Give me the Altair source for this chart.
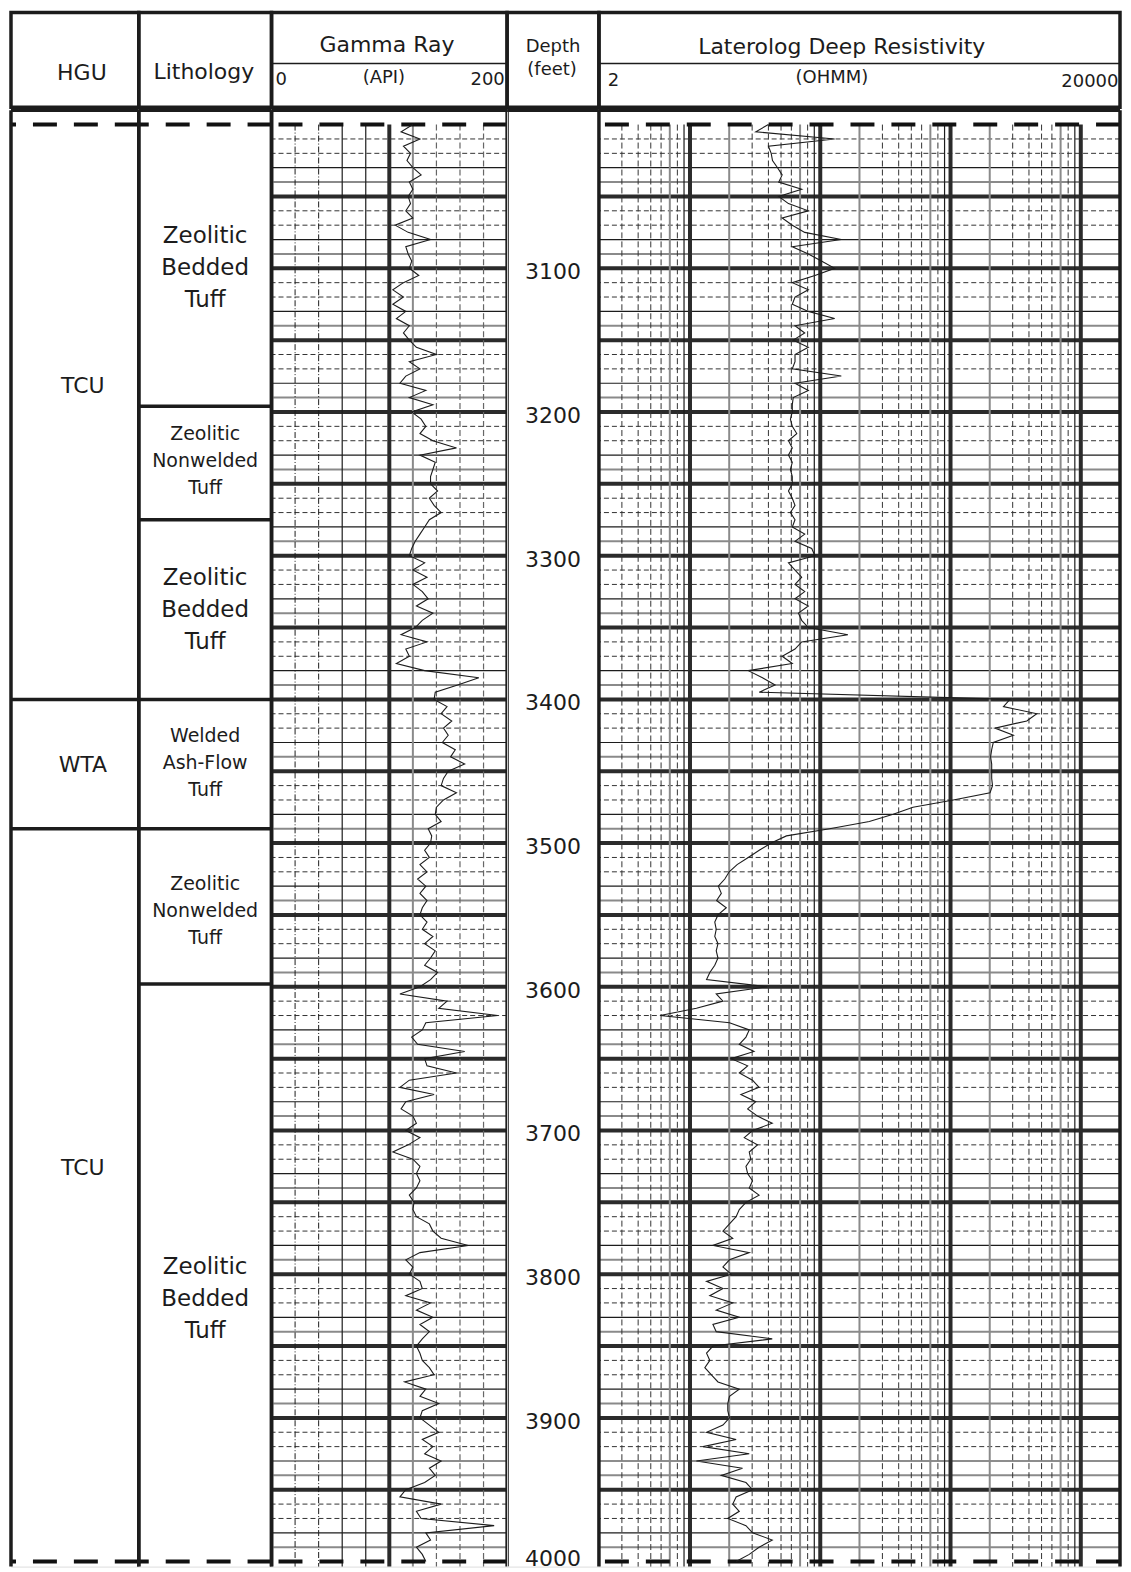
import altair as alt
import pandas as pd

# ------------------------------------------------------------------ data
depth_ft = list(range(3000, 4001, 5))

gamma_api = [
    120, 110, 126, 112, 118, 115, 120, 127, 117, 120,
    116, 118, 114, 120, 105, 116, 135, 114, 116, 119,
    117, 125, 112, 103, 112, 103, 114, 106, 117, 112,
    117, 123, 140, 117, 126, 114, 109, 131, 117, 137,
    119, 127, 131, 126, 137, 157, 126, 139, 137, 135,
    135, 141, 134, 138, 144, 134, 130, 126, 122, 119,
    117, 130, 120, 132, 120, 128, 133, 123, 137, 128,
    122, 110, 132, 114, 117, 106, 130, 176, 158, 139,
    138, 149, 144, 153, 146, 150, 145, 156, 152, 164,
    150, 146, 144, 157, 146, 140, 139, 144, 133, 136,
    135, 130, 134, 126, 132, 124, 131, 126, 132, 128,
    126, 132, 128, 137, 130, 139, 135, 130, 141, 135,
    126, 109, 149, 142, 192, 131, 128, 119, 124, 164,
    130, 132, 157, 117, 109, 138, 114, 110, 120, 123,
    114, 126, 116, 103, 120, 126, 123, 126, 123, 117,
    121, 120, 123, 134, 137, 144, 167, 126, 114, 120,
    117, 126, 128, 114, 135, 123, 137, 126, 134, 128,
    123, 126, 128, 134, 138, 113, 131, 126, 142, 128,
    126, 134, 142, 128, 137, 130, 144, 134, 139, 130,
    114, 109, 144, 123, 127, 189, 131, 135, 123, 128,
    131,
]

resist_ohmm = [
    40, 32, 129, 40, 42, 43, 47, 51, 48, 72,
    48, 57, 81, 51, 61, 76, 145, 61, 81, 102,
    129, 91, 61, 81, 64, 61, 81, 129, 64, 76,
    62, 81, 64, 64, 61, 145, 64, 81, 62, 61,
    61, 59, 61, 66, 57, 61, 57, 61, 59, 61,
    61, 57, 61, 64, 59, 64, 61, 76, 64, 86,
    91, 57, 64, 72, 64, 76, 64, 81, 68, 72,
    81, 163, 72, 64, 51, 61, 28, 36, 45, 34,
    2860, 2550, 4590, 3850, 2190, 3040, 2130, 2070, 2030, 2070,
    2070, 2070, 2100, 2010, 1050, 515, 363, 238, 118, 55,
    42, 34, 28, 23, 20, 18.5, 16.5, 17.4, 16, 19,
    16.4, 15.5, 15.9, 15.5, 16.4, 15.9, 16.4, 15.5, 14.2, 13.4,
    39, 15.9, 17.9, 11.2, 5.9, 20.1, 28.5, 26.9, 23.9, 31,
    20.7, 27.7, 23.9, 30.2, 33.9, 24.6, 32, 27.7, 33, 42.8,
    30.2, 26.1, 33, 28.5, 29.3, 26.9, 27.7, 30.2, 28.5, 33.9,
    26.9, 23.9, 22.6, 20.1, 17.9, 21.3, 15, 28.5, 20.1, 17.9,
    20.7, 13.4, 17.9, 14.2, 21.3, 15.9, 23.9, 15, 15.9, 42.8,
    15, 13.4, 14.2, 13, 14.6, 16.4, 23.9, 20.1, 19.5, 19.5,
    20.1, 17.9, 13.4, 22.6, 12.6, 28.5, 11.2, 25.3, 17.4, 26.9,
    30.2, 22.6, 21.3, 23.9, 19.5, 26.9, 30.2, 42.8, 33.9, 28.5,
    22.6,
]

hgu_names = ["TCU", "WTA", "TCU"]
hgu_label_depth = [3182, 3446, 3726]
hgu_contacts = [3400, 3490]

lith_names = [
    "Zeolitic\nBedded\nTuff",
    "Zeolitic\nNonwelded\nTuff",
    "Zeolitic\nBedded\nTuff",
    "Welded\nAsh-Flow\nTuff",
    "Zeolitic\nNonwelded\nTuff",
    "Zeolitic\nBedded\nTuff",
]
lith_label_depth = [3100, 3234, 3338, 3444, 3547, 3817]
lith_contacts = [3196, 3275, 3400, 3490, 3598]

depth_labels = list(range(3100, 4001, 100))
log_top, log_base = 3000, 4000
gr_range = [0, 200]
res_range = [2, 20000]

# ------------------------------------------------------------------ style / layout
FONT = "DejaVu Sans"
INK = "#1c1c1c"
GRID = "#333333"
GRAY = "#8a8a8a"
THICK = "#2b2b2b"
Y_DOM = [2990, 4003.5]
BODY_H = 1459
HEAD_H = 95
W_HGU, W_LITH, W_GR, W_DEP, W_RES = 128, 133, 236, 92, 522
BIG_LH, SMALL_LH = 32, 27

unit_x = alt.Scale(domain=[0, 1], nice=False, zero=False)
gr_x = alt.Scale(domain=gr_range, nice=False, zero=False)
res_x = alt.Scale(type="log", domain=res_range, nice=False)
head_y = alt.Scale(domain=[0, 1], reverse=True, nice=False, zero=False)


def Yq(field):
    return alt.Y(f"{field}:Q", scale=alt.Scale(domain=Y_DOM, reverse=True, nice=False, zero=False), axis=None)


def hrules(depths, **mk):
    return alt.Chart(pd.DataFrame({"d": depths})).mark_rule(**mk).encode(y=Yq("d"))


def vrules(vals, xs, top, bottom, **mk):
    df = pd.DataFrame({"v": vals, "d0": [top] * len(vals), "d1": [bottom] * len(vals)})
    return alt.Chart(df).mark_rule(**mk).encode(
        x=alt.X("v:Q", scale=xs, axis=None), y=Yq("d0"), y2="d1:Q"
    )


def borders(lo, hi, xs):
    return [
        vrules([lo, hi], xs, Y_DOM[0], Y_DOM[1], color=INK, strokeWidth=3.5),
        hrules([Y_DOM[0]], color=INK, strokeWidth=3.5),
    ]


def dashes():
    return hrules([log_top, log_base], color="#111111", strokeWidth=4, strokeDash=[24, 17])


minor = [d for d in range(log_top + 10, log_base, 10) if d % 50]
major = list(range(log_top + 50, log_base, 50))


def hgrid():
    return [
        hrules([d for d in minor if d % 50 in (10, 20)], color=GRID, strokeWidth=1, strokeDash=[5, 3]),
        hrules([d for d in minor if d % 50 == 30], color=INK, strokeWidth=1.2),
        hrules([d for d in minor if d % 50 == 40], color=GRAY, strokeWidth=2),
        hrules(major, color=THICK, strokeWidth=4),
    ]


curve_df = pd.DataFrame({"d": depth_ft, "gr": gamma_api, "res": resist_ohmm})
V0, V1 = log_top, Y_DOM[1]

# ------------------------------------------------------------------ body panels
hgu_df = pd.DataFrame({"name": hgu_names, "d": hgu_label_depth})
hgu_df["x"] = 0.5
b_hgu = alt.layer(
    hrules(hgu_contacts, color=INK, strokeWidth=3.5),
    dashes(),
    *borders(0, 1, unit_x),
    alt.Chart(hgu_df).mark_text(font=FONT, fontSize=22, color=INK, dx=8, baseline="middle").encode(
        x=alt.X("x:Q", scale=unit_x, axis=None), y=Yq("d"), text="name:N"
    ),
).properties(width=W_HGU, height=BODY_H)

lith_df = pd.DataFrame({"name": lith_names, "d": lith_label_depth})
lith_df["x"] = 0.5
big = lith_df[lith_df["name"].str.contains("Bedded")]
small = lith_df[~lith_df["name"].str.contains("Bedded")]
b_lith = alt.layer(
    hrules(lith_contacts, color=INK, strokeWidth=3.5),
    dashes(),
    *borders(0, 1, unit_x),
    alt.Chart(big).mark_text(font=FONT, fontSize=23, lineHeight=BIG_LH, lineBreak="\n", color=INK,
                             baseline="middle", dy=-BIG_LH).encode(
        x=alt.X("x:Q", scale=unit_x, axis=None), y=Yq("d"), text="name:N"
    ),
    alt.Chart(small).mark_text(font=FONT, fontSize=19, lineHeight=SMALL_LH, lineBreak="\n", color=INK,
                               baseline="middle", dy=-SMALL_LH).encode(
        x=alt.X("x:Q", scale=unit_x, axis=None), y=Yq("d"), text="name:N"
    ),
).properties(width=W_LITH, height=BODY_H)

b_gr = alt.layer(
    *hgrid(),
    vrules([20, 40], gr_x, V0, V1, color=INK, strokeWidth=1, strokeDash=[6, 2, 1, 2]),
    vrules([140, 160, 180], gr_x, V0, V1, color="#666666", strokeWidth=1.2, strokeDash=[6, 3]),
    vrules([60, 80], gr_x, V0, V1, color=INK, strokeWidth=1.2),
    vrules([120], gr_x, V0, V1, color=GRAY, strokeWidth=2),
    vrules([100], gr_x, V0, V1, color=THICK, strokeWidth=4),
    dashes(),
    alt.Chart(curve_df).mark_line(color=INK, strokeWidth=1.1).encode(
        x=alt.X("gr:Q", scale=gr_x, axis=None), y=Yq("d"), order=alt.Order("d:Q")
    ),
    *borders(gr_range[0], gr_range[1], gr_x),
).properties(width=W_GR, height=BODY_H)

dep_df = pd.DataFrame({"d": depth_labels})
dep_df["x"] = 0.5
dep_df["lab"] = dep_df["d"].astype(str)
inner = dep_df[dep_df["d"] < log_base]
last = dep_df[dep_df["d"] >= log_base]
b_dep = alt.layer(
    hrules([Y_DOM[0]], color=INK, strokeWidth=3.5),
    alt.Chart(inner).mark_text(font=FONT, fontSize=22, color=INK, baseline="middle", dy=4).encode(
        x=alt.X("x:Q", scale=unit_x, axis=None), y=Yq("d"), text="lab:N"
    ),
    alt.Chart(last).mark_text(font=FONT, fontSize=22, color=INK, baseline="middle", dy=-3).encode(
        x=alt.X("x:Q", scale=unit_x, axis=None), y=Yq("d"), text="lab:N"
    ),
).properties(width=W_DEP, height=BODY_H)

decades = [1, 10, 100, 1000]
res_thick = [10, 100, 1000, 10000]
res_dash = [m * b for b in decades for m in (3, 4, 5, 6, 8)]
res_gray = [m * b for b in decades for m in (2, 7) if m * b > res_range[0]]
res_solid = [9 * b for b in decades]
b_res = alt.layer(
    *hgrid(),
    vrules(res_dash, res_x, V0, V1, color=GRID, strokeWidth=1, strokeDash=[6, 3]),
    vrules(res_gray, res_x, V0, V1, color=GRAY, strokeWidth=2),
    vrules(res_solid, res_x, V0, V1, color=INK, strokeWidth=1.2),
    vrules(res_thick, res_x, V0, V1, color=THICK, strokeWidth=4),
    dashes(),
    alt.Chart(curve_df).mark_line(color=INK, strokeWidth=1.1).encode(
        x=alt.X("res:Q", scale=res_x, axis=None), y=Yq("d"), order=alt.Order("d:Q")
    ),
    *borders(res_range[0], res_range[1], res_x),
).properties(width=W_RES, height=BODY_H)


# ------------------------------------------------------------------ header panels
def htext(t, fx, fy, size, align="center"):
    df = pd.DataFrame({"t": [t], "x": [fx], "y": [fy]})
    return alt.Chart(df).mark_text(font=FONT, fontSize=size, align=align, baseline="middle", color=INK).encode(
        x=alt.X("x:Q", scale=unit_x, axis=None), y=alt.Y("y:Q", scale=head_y, axis=None), text="t:N"
    )


def hbox():
    df = pd.DataFrame({"x0": [0], "x1": [1], "y0": [0], "y1": [1]})
    return alt.Chart(df).mark_rect(fillOpacity=0, stroke=INK, strokeWidth=3.5).encode(
        x=alt.X("x0:Q", scale=unit_x, axis=None), x2="x1:Q",
        y=alt.Y("y0:Q", scale=head_y, axis=None), y2="y1:Q",
    )


def hline(fy):
    return alt.Chart(pd.DataFrame({"y": [fy]})).mark_rule(color=INK, strokeWidth=1.5).encode(
        y=alt.Y("y:Q", scale=head_y, axis=None)
    )


h_hgu = alt.layer(hbox(), htext("HGU", 0.555, 0.64, 22)).properties(width=W_HGU, height=HEAD_H)
h_lith = alt.layer(hbox(), htext("Lithology", 0.49, 0.63, 22)).properties(width=W_LITH, height=HEAD_H)
h_gr = alt.layer(
    hbox(), hline(0.54),
    htext("Gamma Ray", 0.49, 0.34, 22),
    htext(str(gr_range[0]), 0.017, 0.71, 18, "left"),
    htext("(API)", 0.477, 0.69, 18),
    htext(str(gr_range[1]), 0.99, 0.71, 18, "right"),
).properties(width=W_GR, height=HEAD_H)
h_dep = alt.layer(
    hbox(), htext("Depth", 0.5, 0.37, 18), htext("(feet)", 0.49, 0.61, 18)
).properties(width=W_DEP, height=HEAD_H)
h_res = alt.layer(
    hbox(), hline(0.54),
    htext("Laterolog Deep Resistivity", 0.466, 0.36, 22),
    htext(str(res_range[0]), 0.017, 0.72, 18, "left"),
    htext("(OHMM)", 0.447, 0.69, 18),
    htext(str(res_range[1]), 0.997, 0.73, 18, "right"),
).properties(width=W_RES, height=HEAD_H)

chart = (
    alt.concat(
        h_hgu, h_lith, h_gr, h_dep, h_res,
        b_hgu, b_lith, b_gr, b_dep, b_res,
        columns=5, spacing={"row": 3, "column": 0}, bounds="flush", align="each",
    )
    .properties(padding=0)
    .configure_view(strokeWidth=0)
    .configure(background="white")
)

chart.save("out.html", embed_options={"renderer": "svg", "actions": False})
